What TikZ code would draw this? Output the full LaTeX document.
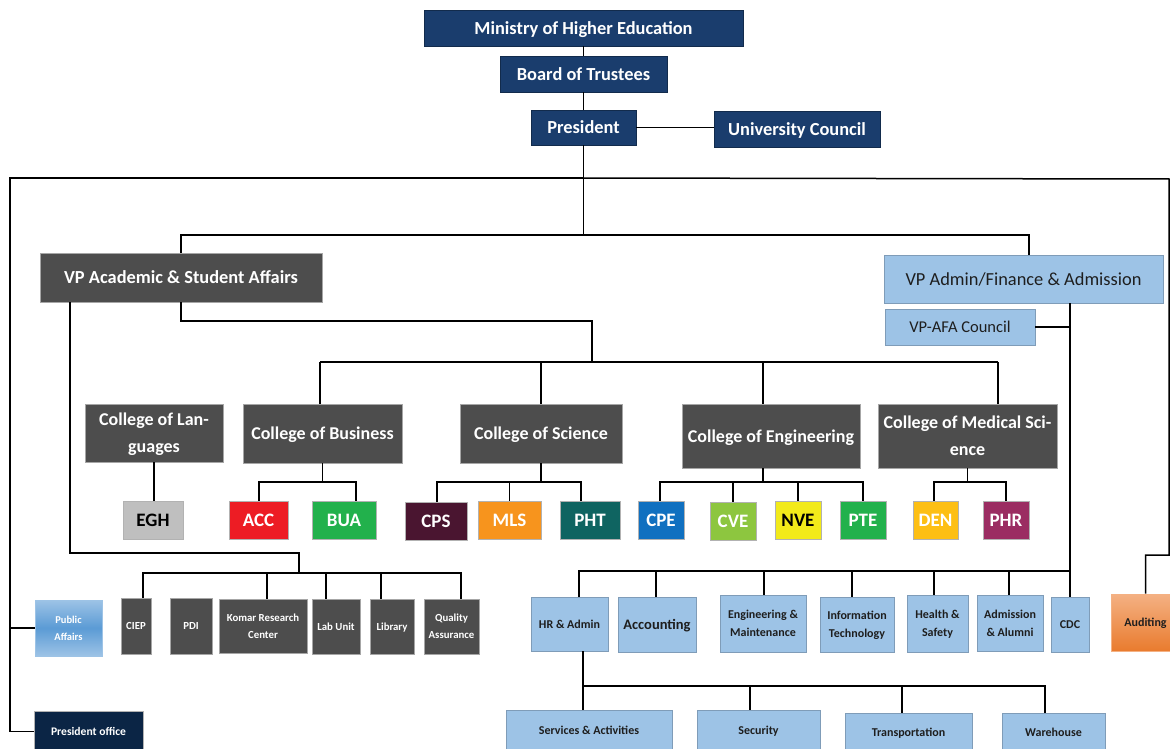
\documentclass[tikz,border=0pt]{standalone}
\usepackage{fontspec}
\setmainfont{Carlito}
\definecolor{navy}{HTML}{1A3D6D}
\definecolor{pnavy}{HTML}{0B2545}
\definecolor{dkgray}{HTML}{4D4D4D}
\definecolor{lblue}{HTML}{9DC3E6}
\definecolor{mblue}{HTML}{5B9BD5}
\definecolor{lbord}{HTML}{7F9CB8}
\definecolor{olight}{HTML}{F4B183}
\definecolor{odark}{HTML}{E97B2E}
\definecolor{cEGH}{HTML}{BFBFBF}
\definecolor{cACC}{HTML}{ED1C24}
\definecolor{cBUA}{HTML}{22B14C}
\definecolor{cCPS}{HTML}{4A1530}
\definecolor{cMLS}{HTML}{F7941D}
\definecolor{cPHT}{HTML}{0F6461}
\definecolor{cCPE}{HTML}{1070C0}
\definecolor{cCVE}{HTML}{8DC63F}
\definecolor{cNVE}{HTML}{F2EA1A}
\definecolor{cPTE}{HTML}{22B14C}
\definecolor{cDEN}{HTML}{FDBF14}
\definecolor{cPHR}{HTML}{9B2D62}
\definecolor{txt}{HTML}{1E1E1E}
\newcommand{\bx}[7]{\node[#6, minimum width={#4-#2}, minimum height={#5-#3}] (#1) at ({(#2+#4)/2},{(#3+#5)/2}) {#7};}
\tikzset{
  conn/.style={draw=black, line width=1.5pt},
  basebox/.style={inner sep=0pt, align=center, line width=0.6pt, text depth=0pt},
  navybox/.style={basebox, fill=navy, draw=navy!70!black, text=white, font=\bfseries\fontsize{18.4}{21}\selectfont},
  darkbox/.style={basebox, fill=dkgray, draw=gray!70, text=white, font=\bfseries\fontsize{18}{27}\selectfont},
  vpdark/.style={basebox, fill=dkgray, draw=gray!70, text=white, font=\bfseries\fontsize{18.4}{21}\selectfont},
  lbox/.style={basebox, fill=lblue, draw=lbord, text=txt},
  dept/.style={basebox, draw=gray!60, text=white, font=\bfseries\fontsize{19}{22}\selectfont},
  smallbox/.style={basebox, fill=dkgray, draw=gray!70, text=white, font=\bfseries\fontsize{10.8}{17}\selectfont},
  rbox/.style={lbox, font=\bfseries\fontsize{12}{18}\selectfont},
}
\begin{document}
\begin{tikzpicture}[x=1pt,y=-1pt]
\useasboundingbox (0,0) rectangle (1170,749);
\fill[white] (0,0) rectangle (1170,749);
% top
\bx{min}{424}{10}{743}{46}{navybox}{Ministry of Higher Education}
\bx{board}{500}{56}{667}{92}{navybox}{Board of Trustees}
\bx{pres}{531}{110}{636}{145}{navybox}{President}
\bx{uc}{714}{111}{880}{147}{navybox}{University Council}
% VPs
\bx{vpa}{40}{253}{322}{302}{vpdark}{VP Academic \& Student Affairs}
\bx{vpf}{884}{255}{1163}{303}{lbox, font=\fontsize{18.4}{21}\selectfont}{VP Admin/Finance \& Admission}
\bx{afa}{885}{309}{1035}{345}{lbox, font=\fontsize{16.5}{19}\selectfont}{VP-AFA Council}
% colleges
\bx{col}{85}{404}{223}{462}{darkbox}{College of Lan-\\guages}
\bx{cob}{243}{404}{402}{463}{darkbox}{College of Business}
\bx{cos}{460}{404}{622}{463}{darkbox}{College of Science}
\bx{coe}{682}{404}{860}{468}{darkbox}{College of Engineering}
\bx{cms}{878}{404}{1057}{468}{darkbox}{College of Medical Sci-\\ence}
% departments
\bx{egh}{123}{501}{183}{539}{dept, fill=cEGH, text=black}{EGH}
\bx{acc}{229}{501}{288}{539}{dept, fill=cACC}{ACC}
\bx{bua}{312}{501}{376}{539}{dept, fill=cBUA}{BUA}
\bx{cps}{405}{502}{467}{540}{dept, fill=cCPS}{CPS}
\bx{mls}{478}{501}{541}{539}{dept, fill=cMLS}{MLS}
\bx{pht}{560}{501}{620}{539}{dept, fill=cPHT}{PHT}
\bx{cpe}{638}{501}{684}{539}{dept, fill=cCPE}{CPE}
\bx{cve}{710}{502}{756}{540}{dept, fill=cCVE}{CVE}
\bx{nve}{775}{501}{821}{539}{dept, fill=cNVE, text=black}{NVE}
\bx{pte}{840}{501}{886}{539}{dept, fill=cPTE}{PTE}
\bx{den}{913}{501}{958}{539}{dept, fill=cDEN}{DEN}
\bx{phr}{983}{501}{1029}{539}{dept, fill=cPHR}{PHR}
% academic units
\bx{ciep}{121}{598}{151}{654}{smallbox}{CIEP}
\bx{pdi}{170}{598}{212}{654}{smallbox}{PDI}
\bx{komar}{219}{599}{307}{653}{smallbox}{Komar Research\\Center}
\bx{lab}{312}{599}{360}{654}{smallbox}{Lab Unit}
\bx{lib}{370}{599}{414}{654}{smallbox}{Library}
\bx{qa}{424}{599}{479}{654}{smallbox}{Quality\\Assurance}
\bx{pa}{35}{600}{102}{656}{basebox, top color=lblue, bottom color=lblue, middle color=mblue, draw=lblue, text=white, font=\bfseries\fontsize{10.5}{17}\selectfont}{Public\\Affairs}
\bx{po}{34}{711}{143}{752}{basebox, fill=pnavy, draw=gray!60, text=white, font=\bfseries\fontsize{11.6}{13}\selectfont}{President office}
% admin units
\bx{hr}{531}{597}{608}{651}{rbox}{HR \& Admin}
\bx{acct}{618}{597}{696}{652}{lbox, font=\bfseries\fontsize{14.5}{17}\selectfont}{Accounting}
\bx{engm}{720}{595}{806}{652}{rbox}{Engineering \&\\Maintenance}
\bx{it}{820}{597}{894}{652}{rbox}{Information\\Technology}
\bx{hs}{907}{595}{968}{652}{rbox}{Health \&\\Safety}
\bx{adm}{977}{595}{1043}{651}{rbox}{Admission\\\& Alumni}
\bx{cdc}{1051}{597}{1089}{652}{rbox}{CDC}
\bx{aud}{1111}{594}{1180}{651}{basebox, top color=olight, bottom color=odark, draw=olight, text=txt, font=\bfseries\fontsize{12}{14}\selectfont}{Auditing}
\bx{sa}{506}{710}{672}{751}{rbox}{Services \& Activities}
\bx{sec}{697}{710}{820}{751}{rbox}{Security}
\bx{tr}{845}{713}{972}{751}{rbox}{Transportation}
\bx{wh}{1002}{713}{1105}{751}{rbox}{Warehouse}
% coordinates
\coordinate (j1) at (583.5,178);
\coordinate (j2) at (583.5,235);
\coordinate (L) at (10,178);
\coordinate (R1) at (1169,179);
\coordinate (R2) at (1169,555);
\coordinate (c1) at (181,321);
\coordinate (c2) at (592,321);
\coordinate (c3) at (592,362);
\coordinate (cl) at (320,362);
\coordinate (cr) at (998,362);
\coordinate (ce) at (763,362);
\coordinate (bbL) at (259,482);
\coordinate (bbR) at (356,482);
\coordinate (sbL) at (437,482);
\coordinate (sbR) at (581,482);
\coordinate (ebL) at (660,482);
\coordinate (ebR) at (863,482);
\coordinate (ebM) at (763,482);
\coordinate (mbL) at (934,482);
\coordinate (mbR) at (1006,482);
\coordinate (a1) at (70,553);
\coordinate (a2) at (299,553);
\coordinate (a3) at (299,573);
\coordinate (aL) at (143,573);
\coordinate (aR) at (461,573);
\coordinate (ak) at (267,573);
\coordinate (al) at (326,573);
\coordinate (ai) at (381,573);
\coordinate (b1) at (579,571);
\coordinate (b2) at (1070,571);
\coordinate (bA) at (656,571);
\coordinate (bE) at (764,571);
\coordinate (bI) at (852,571);
\coordinate (bH) at (934,571);
\coordinate (bD) at (1009,571);
\coordinate (h1) at (583,686);
\coordinate (h2) at (1045,686);
\coordinate (hS) at (750,686);
\coordinate (hT) at (902,686);
% connectors
\draw[conn] (min.south) -- (board.north);
\draw[conn] (board.south) -- (pres.north);
\draw[conn] (pres.east) -- (pres.east -| uc.west);
\draw[conn] (pres.south) -- (j2);
\draw[conn] (j1) -- (L) |- (po.west);
\draw[conn] (L |- pa.west) -- (pa.west);
\draw[conn] (j1) -- (R1) -- (R2) -| (aud.north);
\draw[conn] (vpa.north) |- (j2) -| ([xshift=5.5pt]vpf.north);
\draw[conn] (vpa.south) -- (c1) -- (c2) -- (c3);
\draw[conn] (cl) -- (cr);
\draw[conn] (cl) -- (cl |- cob.north);
\draw[conn] (cos.north |- cl) -- (cos.north);
\draw[conn] (ce) -- (ce |- coe.north);
\draw[conn] (cr) -- (cr |- cms.north);
\draw[conn] (col.south) -- (col.south |- egh.north);
\draw[conn] (cob.south) -- (cob.south |- bbL);
\draw[conn] (bbL |- acc.north) -- (bbL) -- (bbR) -- (bbR |- bua.north);
\draw[conn] (cos.south) -- (cos.south |- sbL);
\draw[conn] (sbL |- cps.north) -- (sbL) -- (sbR) -- (sbR |- pht.north);
\draw[conn] (mls.north) -- (mls.north |- sbL);
\draw[conn] (ebM |- coe.south) -- (ebM);
\draw[conn] (ebL |- cpe.north) -- (ebL) -- (ebR) -- (ebR |- pte.north);
\draw[conn] (cve.north) -- (cve.north |- ebL);
\draw[conn] (nve.north) -- (nve.north |- ebL);
\draw[conn] (cms.south) -- (cms.south |- mbL);
\draw[conn] (mbL |- den.north) -- (mbL) -- (mbR) -- (mbR |- phr.north);
\draw[conn] (vpa.south -| a1) -- (a1) -- (a2) -- (a3);
\draw[conn] (aL |- ciep.north) -- (aL) -- (aR) -- (aR |- qa.north);
\draw[conn] (ak) -- (ak |- komar.north);
\draw[conn] (al) -- (al |- lab.north);
\draw[conn] (ai) -- (ai |- lib.north);
\draw[conn] (vpf.south -| cdc.north) -- (cdc.north);
\draw[conn] (afa.east) -- (afa.east -| cdc.north);
\draw[conn] (b1 |- hr.north) -- (b1) -- (b2);
\draw[conn] (bA) -- (bA |- acct.north);
\draw[conn] (bE) -- (bE |- engm.north);
\draw[conn] (bI) -- (bI |- it.north);
\draw[conn] (bH) -- (bH |- hs.north);
\draw[conn] (bD) -- (bD |- adm.north);
\draw[conn] (hr.south -| h1) -- (h1 |- sa.north);
\draw[conn] (h1) -- (h2) -- (h2 |- wh.north);
\draw[conn] (hS) -- (hS |- sec.north);
\draw[conn] (hT) -- (hT |- tr.north);
\end{tikzpicture}
\end{document}
